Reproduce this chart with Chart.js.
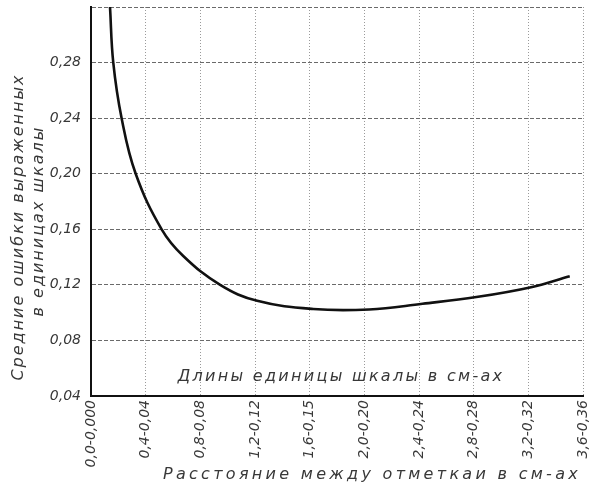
<!DOCTYPE html>
<html>
<head>
<meta charset="utf-8">
<script src="https://cdn.jsdelivr.net/npm/chart.js@4"></script>
<style>
html,body{margin:0;padding:0;background:#fff;}
#wrap{width:589px;height:491px;position:relative;}
</style>
</head>
<body>
<div id="wrap"><canvas id="c" width="589" height="491"></canvas></div>
<script>
// Data
const distX = [0.139, 0.163, 0.224, 0.327, 0.517, 0.675, 0.945, 1.216, 1.626, 2.035, 2.426, 2.82, 3.22, 3.503];
const meanError = [0.32, 0.28, 0.24, 0.20, 0.16, 0.1408, 0.12, 0.1085, 0.1026, 0.1023, 0.1064, 0.1112, 0.1183, 0.1262];
const xTickLabels = ["0,0-0,000", "0,4-0,04", "0,8-0,08", "1,2-0,12", "1,6-0,15", "2,0-0,20", "2,4-0,24", "2,8-0,28", "3,2-0,32", "3,6-0,36"];
const yTitleLines = ["Средние ошибки выраженных", "в единицах шкалы"];
const xTitle = "Расстояние между отметкаи в см-ах";
const innerLabel = "Длины единицы шкалы в см-ах";

const points = distX.map((x, i) => ({x: x, y: meanError[i]}));
const TXT = '#383838';
const FAM = '"DejaVu Sans", sans-serif';

const textPlugin = {
  id: 'texts',
  afterDraw(chart) {
    const ctx = chart.ctx, a = chart.chartArea;
    ctx.save();
    ctx.fillStyle = TXT;
    ctx.textAlign = 'center';
    ctx.textBaseline = 'middle';
    ctx.font = 'italic 16px ' + FAM;
    try { ctx.letterSpacing = '2.3px'; } catch (e) {}
    ctx.fillText(innerLabel, (a.left + a.right) / 2 + 4, a.bottom - 19);
    try { ctx.letterSpacing = '3.3px'; } catch (e) {}
    ctx.fillText(xTitle, 372, 475);
    try { ctx.letterSpacing = '2px'; } catch (e) {}
    ctx.save();
    ctx.translate(19, 227);
    ctx.rotate(-Math.PI / 2);
    ctx.fillText(yTitleLines[0], 0, 0);
    ctx.restore();
    ctx.save();
    ctx.translate(39, 221);
    ctx.rotate(-Math.PI / 2);
    ctx.fillText(yTitleLines[1], 0, 0);
    ctx.restore();
    ctx.restore();
  }
};

new Chart(document.getElementById('c'), {
  type: 'scatter',
  data: {
    datasets: [{
      data: points,
      showLine: true,
      borderColor: '#111',
      borderWidth: 2.6,
      pointRadius: 0,
      tension: 0.4,
      fill: false
    }]
  },
  options: {
    responsive: false,
    animation: false,
    events: [],
    layout: {padding: {left: 0, top: 7, right: 6, bottom: 0}},
    plugins: {legend: {display: false}, tooltip: {enabled: false}},
    scales: {
      x: {
        type: 'linear',
        min: 0, max: 3.6,
        afterBuildTicks(scale) {
          scale.ticks = xTickLabels.map((_, i) => ({value: i * 0.4}));
        },
        afterFit(scale) {
          scale.height = 95;
          scale.paddingLeft = 0;
          scale.paddingRight = 0;
        },
        ticks: {
          autoSkip: false,
          minRotation: 90, maxRotation: 90,
          padding: 4,
          color: TXT,
          font: {family: FAM, size: 14, style: 'italic'},
          callback: (v, i) => xTickLabels[i]
        },
        grid: {color: '#9a9a9a', lineWidth: 1, drawTicks: false},
        border: {display: true, color: '#111', width: 2, dash: [1, 2]}
      },
      y: {
        min: 0.04, max: 0.32,
        afterBuildTicks(scale) {
          const t = [];
          for (let i = 0; i <= 7; i++) t.push({value: +(0.04 + i * 0.04).toFixed(2)});
          scale.ticks = t;
        },
        afterFit(scale) {
          scale.width = 91;
          scale.paddingTop = 0;
          scale.paddingBottom = 0;
        },
        ticks: {
          padding: 10,
          color: TXT,
          font: {family: FAM, size: 14, style: 'italic'},
          callback: (v) => (Math.abs(v - 0.32) < 1e-6 ? '' : v.toFixed(2).replace('.', ','))
        },
        grid: {color: '#6a6a6a', lineWidth: 1, drawTicks: false},
        border: {display: true, color: '#111', width: 2, dash: [4, 2]}
      }
    }
  },
  plugins: [textPlugin]
});
</script>
</body>
</html>
